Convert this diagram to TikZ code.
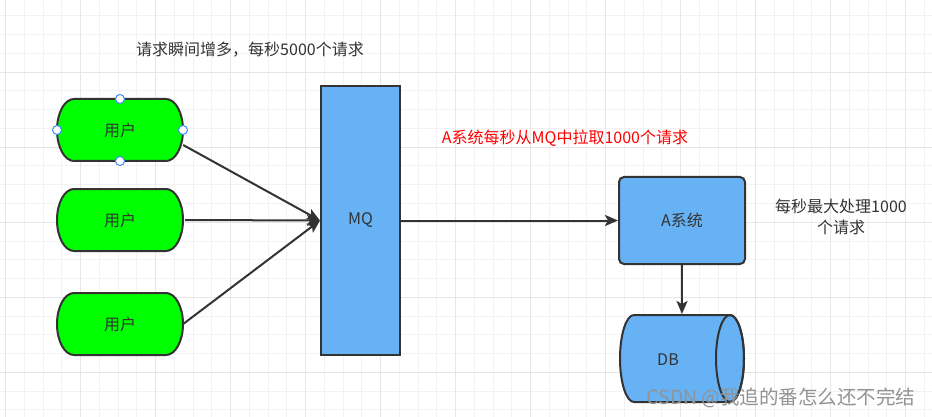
\documentclass[tikz,border=0pt]{standalone}
\usepackage{fontspec}
\setmainfont{Noto Sans CJK SC}
\usetikzlibrary{arrows.meta}
\definecolor{inkgray}{HTML}{333333}
\definecolor{usergreen}{HTML}{00FF00}
\definecolor{mqblue}{HTML}{66B2F5}
\definecolor{handleblue}{HTML}{3D8BFF}
\definecolor{gridminor}{HTML}{F2F2F2}
\definecolor{gridmajor}{HTML}{E6E6E6}
\tikzset{
  box/.style={draw=inkgray, line width=2pt, fill=mqblue, text=inkgray,
              font=\fontsize{16}{19}\selectfont, inner sep=0pt},
  shapeline/.style={draw=inkgray, line width=2pt},
  usertext/.style={minimum width=126pt, minimum height=62pt, inner sep=0pt,
                   text=inkgray, font=\fontsize{16}{19}\selectfont},
  flow/.style={draw=inkgray, line width=2pt, -{Stealth[length=13pt, width=11pt, inset=3pt]}},
  note/.style={text=inkgray, font=\fontsize{16}{19}\selectfont, inner sep=0pt},
  handle/.style={draw=handleblue, fill=white, line width=1pt},
}

\begin{document}
\begin{tikzpicture}[x=1pt, y=-1pt]
  \useasboundingbox (0,0) rectangle (932,417);
  \fill[white] (0,0) rectangle (932,417);
  % grid
  \begin{scope}
    \clip (0,0) rectangle (932,417);
    \foreach \i in {0,...,49} \draw[gridminor, line width=1pt] ({5.7+18.75*\i},0) -- ++(0,417);
    \foreach \j in {0,...,21} \draw[gridminor, line width=1pt] (0,{16+18.75*\j}) -- ++(932,0);
    \foreach \i in {0,4,...,48} \draw[gridmajor, line width=1pt] ({5.7+18.75*\i},0) -- ++(0,417);
    \foreach \j in {3,7,...,19} \draw[gridmajor, line width=1pt] (0,{16+18.75*\j}) -- ++(932,0);
  \end{scope}

  % users
  \foreach \n/\y in {u1/130, u2/220, u3/324} {
    \draw[shapeline, fill=usergreen] (74,\y-31) -- (166,\y-31)
      arc[start angle=-90, end angle=90, x radius=17, y radius=31]
      -- (74,\y+31)
      arc[start angle=90, end angle=270, x radius=17, y radius=31] -- cycle;
    \node[usertext] (\n) at (120,\y) {用户};
  }
  \foreach \p in {(120,99), (57,130), (183,130), (120,161)}
    \draw[handle] \p circle[radius=4.5];

  \node[box, minimum width=79pt, minimum height=269pt] (mq) at (360.5,220.5) {MQ};
  \node[box, rounded corners=5pt, minimum width=126pt, minimum height=87pt] (a) at (682,220.5) {A系统};

  % database
  \draw[shapeline, fill=mqblue] (634,315) -- (730,315)
    arc[start angle=-90, end angle=90, x radius=14, y radius=43.5]
    -- (634,402)
    arc[start angle=90, end angle=270, x radius=14, y radius=43.5] -- cycle;
  \draw[shapeline] (730,358.5) ellipse[x radius=14, y radius=43.5];
  \node[note] (db) at (668,360) {DB};
  \coordinate (dbtop) at (682,314);

  \node[note] (burst) at (250,50) {请求瞬间增多，每秒5000个请求};
  \node[note, text=red] (pull) at (565,138) {A系统每秒从MQ中拉取1000个请求};
  \node[note, align=center] (limit) at (841,217) {每秒最大处理1000\\[2pt]个请求};

  \draw[flow] ([yshift=-15pt]u1.east) -- (mq.west);
  \draw[flow] ([xshift=2pt]u2.east) -- (mq.west);
  \draw[flow] (u3.east) -- (mq.west);
  \draw[flow] (mq.east) -- (a.west);
  \draw[flow] (a.south) -- (dbtop);

  \node[text=gray!85, font=\fontsize{19.5}{22}\selectfont, inner sep=0pt] (mark) at (781,398) {CSDN @我追的番怎么还不完结};
\end{tikzpicture}
\end{document}
